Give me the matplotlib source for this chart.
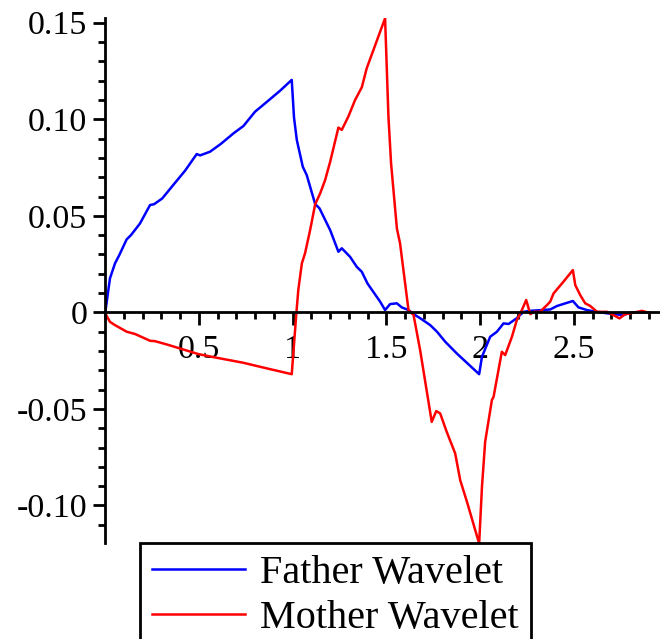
import numpy as np
import matplotlib.pyplot as plt
from matplotlib.ticker import MultipleLocator, FixedLocator

# father wavelet (blue)
father_x = [0, 0.025, 0.052, 0.075, 0.114, 0.137, 0.185, 0.239, 0.26, 0.304, 0.363, 0.426,
            0.488, 0.506, 0.559, 0.616, 0.684, 0.737, 0.799, 0.862, 0.933, 0.995,
            1.007, 1.022, 1.054, 1.075, 1.12, 1.143, 1.2, 1.244, 1.262, 1.306, 1.342,
            1.369, 1.399, 1.467, 1.493, 1.52, 1.556, 1.582, 1.618, 1.645, 1.68, 1.734,
            1.77, 1.814, 1.876, 1.995, 2.01, 2.054, 2.09, 2.125, 2.152, 2.196, 2.232,
            2.268, 2.374, 2.41, 2.495, 2.525, 2.57, 2.62, 2.71, 2.765, 2.80, 2.85, 2.9]
father_y = [0, 0.0176, 0.0254, 0.0297, 0.0378, 0.040, 0.046, 0.0556, 0.056, 0.059, 0.066, 0.0734,
            0.082, 0.0813, 0.0832, 0.0872, 0.0927, 0.0965, 0.1039, 0.109, 0.1148, 0.1204,
            0.101, 0.0893, 0.0754, 0.0711, 0.0561, 0.0539, 0.0426, 0.0314, 0.0332, 0.0288, 0.0236,
            0.021, 0.015, 0.0055, 0.0012, 0.0043, 0.0047, 0.0026, 0.0012, -0.0009, -0.003, -0.0066,
            -0.010, -0.0152, -0.0213, -0.032, -0.023, -0.0126, -0.010, -0.0057, -0.006, -0.003, 0.0003,
            0.0008, 0.0015, 0.0033, 0.0059, 0.0026, 0.0012, 0.0003, -0.0009, -0.0014, -0.0002, 0.0, 0.0]

# mother wavelet (red)
mother_x = [0, 0.025, 0.052, 0.114, 0.159, 0.239, 0.265, 0.328, 0.426, 0.497, 0.595, 0.737,
            0.862, 0.995, 1.02, 1.03, 1.049, 1.066, 1.093, 1.12, 1.147, 1.173, 1.2,
            1.244, 1.262, 1.297, 1.333, 1.369, 1.395, 1.431, 1.493, 1.511, 1.525, 1.556,
            1.573, 1.618, 1.645, 1.68, 1.742, 1.766, 1.787, 1.822, 1.867, 1.894, 1.93,
            1.995, 2.01, 2.027, 2.063, 2.072, 2.116, 2.134, 2.17, 2.196, 2.223, 2.246,
            2.268, 2.289, 2.32, 2.357, 2.374, 2.392, 2.445, 2.495, 2.508, 2.534, 2.561,
            2.588, 2.624, 2.677, 2.721, 2.744, 2.775, 2.801, 2.864, 2.9]
mother_y = [-0.0005, -0.0049, -0.0066, -0.010, -0.0112, -0.0147, -0.0149, -0.0166, -0.0195, -0.0216,
            -0.0235, -0.0261, -0.029, -0.032, 0.0, 0.0116, 0.0254, 0.0306, 0.0426, 0.056, 0.0617,
            0.0685, 0.078, 0.0957, 0.0945, 0.1014, 0.110, 0.1166, 0.1264, 0.1359, 0.1523, 0.1013,
            0.0772, 0.0435, 0.0357, 0.0012, -0.0014, -0.0195, -0.0567, -0.0511, -0.0523, -0.0619,
            -0.073, -0.0869, -0.0981, -0.1197, -0.0904, -0.067, -0.0454, -0.0437, -0.0204, -0.0221,
            -0.0126, -0.004, 0.0012, 0.0064, -0.0009, 0.0003, 0.0003, 0.0038, 0.0055, 0.0098, 0.0159,
            0.0219, 0.0141, 0.009, 0.0047, 0.0033, 0.0003, 0.0003, -0.0019, -0.0031, -0.0009, -0.0005,
            0.0008, -0.0002]

xticks = [0.5, 1, 1.5, 2, 2.5]
xlabels = ['0.5', '1', '1.5', '2', '2.5']
yticks = [-0.10, -0.05, 0, 0.05, 0.10, 0.15]
ylabels = ['-0.10', '-0.05', '0', '0.05', '0.10', '0.15']

plt.rcParams['font.family'] = ['Liberation Serif', 'DejaVu Serif']

fig = plt.figure(figsize=(6.6, 6.39), dpi=100)
ax = fig.add_axes([0.1595, 0.150, 0.8405, 0.822])

l1, = ax.plot(father_x, father_y, color='#0000ff', lw=1.8, label='Father Wavelet')
l2, = ax.plot(mother_x, mother_y, color='#ff0000', lw=1.8, label='Mother Wavelet')

ax.set_xlim(0, 2.96)
ax.set_ylim(-0.1195, 0.1525)

for s in ['top', 'right']:
    ax.spines[s].set_visible(False)
ax.spines['bottom'].set_position(('data', 0))
ax.spines['left'].set_position(('data', 0))
ax.spines['bottom'].set_linewidth(2)
ax.spines['left'].set_linewidth(2)

ax.xaxis.set_major_locator(FixedLocator(xticks))
ax.set_xticklabels(xlabels)
ax.xaxis.set_minor_locator(MultipleLocator(0.1))
ax.yaxis.set_major_locator(FixedLocator(yticks))
ax.set_yticklabels(ylabels)
ax.yaxis.set_minor_locator(MultipleLocator(0.01))

ax.tick_params(axis='both', which='major', length=9, width=2, labelsize=24.5, direction='out')
ax.tick_params(axis='both', which='minor', length=5, width=2, direction='out')
ax.tick_params(axis='x', pad=7)
ax.tick_params(axis='y', pad=4)

leg = fig.legend(handles=[l1, l2], loc='upper left', bbox_to_anchor=(140 / 660, 1 - 542.7 / 639),
                 fontsize=29, frameon=True, fancybox=False, framealpha=1, edgecolor='black',
                 handlelength=2.3, handletextpad=0.38, labelspacing=0.2, borderpad=0.3,
                 borderaxespad=0)
leg.get_frame().set_linewidth(2)

fig.savefig('out.png', dpi=100)
